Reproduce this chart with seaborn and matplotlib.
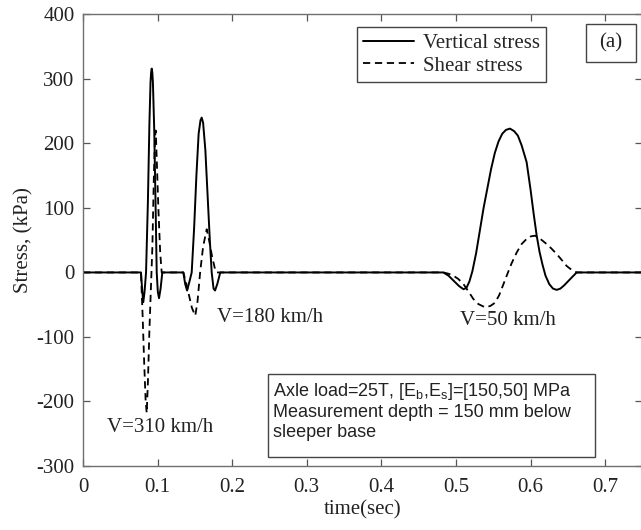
import numpy as np
import pandas as pd
import matplotlib
matplotlib.use("Agg")
import matplotlib.pyplot as plt
from matplotlib.patches import Rectangle
import seaborn as sns

# ---- data (time in s, stress in kPa) ----
# V = 310 km/h
t_vert_310 = [0.0777, 0.0795, 0.0808, 0.0825, 0.0845, 0.0870, 0.0890, 0.0905, 0.0913, 0.0921,
              0.0929, 0.0937, 0.0955, 0.0975, 0.0988, 0.1003, 0.1019, 0.1040, 0.1063]
s_vert_310 = [0, -30, -46, -30, 0, 110, 230, 295, 310, 316, 310, 295, 220, 90, 0, -30, -40, -25, 0]
t_shear_310 = [0.0777, 0.0800, 0.0820, 0.0840, 0.0854, 0.0870, 0.0890, 0.0910, 0.0930,
               0.0950, 0.0965, 0.0975, 0.0990, 0.1010, 0.1035, 0.1055]
s_shear_310 = [0, -70, -140, -200, -218, -170, -90, -25, 40, 150, 210, 220, 170, 100, 30, 0]

# V = 180 km/h
t_vert_180 = [0.1345, 0.1370, 0.1395, 0.1425, 0.1457, 0.1490, 0.1520, 0.1550, 0.1575,
              0.1591, 0.1610, 0.1640, 0.1670, 0.1700, 0.1725, 0.1750, 0.1770, 0.1800, 0.1840]
s_vert_180 = [0, -18, -28, -15, 0, 70, 150, 215, 236, 240, 232, 190, 120, 50, 0, -25, -28, -18, 0]
t_shear_180 = [0.1345, 0.1380, 0.1420, 0.1460, 0.1505, 0.1535, 0.1570, 0.1610, 0.1658,
               0.1690, 0.1730, 0.1770, 0.1790]
s_shear_180 = [0, -15, -35, -55, -67, -45, 0, 40, 67, 50, 25, 5, 0]

# V = 50 km/h
t_vert_50 = [0.483, 0.490, 0.497, 0.504, 0.510, 0.514, 0.518, 0.522, 0.527, 0.532, 0.537,
             0.542, 0.547, 0.552, 0.557, 0.562, 0.567, 0.5724, 0.578, 0.583, 0.588, 0.5947,
             0.600, 0.604, 0.6082, 0.612, 0.616, 0.620, 0.625, 0.630, 0.635, 0.640, 0.645,
             0.650, 0.655, 0.6618]
s_vert_50 = [0, -5, -13, -21, -26, -24, -14, 2, 30, 65, 100, 130, 160, 185, 203, 215, 221,
             223, 219, 212, 197, 171, 128, 92, 57, 32, 12, -5, -18, -25, -27, -25, -20,
             -14, -8, 0]
t_shear_50 = [0.483, 0.490, 0.4964, 0.503, 0.510, 0.517, 0.5232, 0.530, 0.5389, 0.546,
              0.5523, 0.558, 0.563, 0.568, 0.5745, 0.5814, 0.588, 0.5947, 0.6005, 0.6059,
              0.612, 0.6216, 0.628, 0.635, 0.642, 0.6484, 0.655, 0.6618]
s_shear_50 = [0, -2, -5, -10, -18, -30, -41, -49, -54, -52, -47, -35, -20, -5, 14, 31,
              44, 52, 56, 57, 53, 44, 37, 28.5, 19, 10, 4, 0]

t_start, t_end = 0.0, 0.75

speed_labels = ["V=310 km/h", "V=180 km/h", "V=50 km/h"]
label_pos = [(0.0318, -240), (0.179, -70), (0.5054, -75)]

series_names = ["Vertical stress", "Shear stress"]
x_ticks = [0, 0.1, 0.2, 0.3, 0.4, 0.5, 0.6, 0.7]
y_ticks = [-300, -200, -100, 0, 100, 200, 300, 400]

# ---- build tables ----
vert_t = [t_start] + t_vert_310 + t_vert_180 + t_vert_50 + [t_end]
vert_s = [0] + s_vert_310 + s_vert_180 + s_vert_50 + [0]
shear_t = [t_start] + t_shear_310 + t_shear_180 + t_shear_50 + [t_end]
shear_s = [0] + s_shear_310 + s_shear_180 + s_shear_50 + [0]
df_v = pd.DataFrame({"t": vert_t, "s": vert_s})
df_s = pd.DataFrame({"t": shear_t, "s": shear_s})

sns.set_theme(style="ticks")
plt.rcParams["font.family"] = ["Liberation Serif", "DejaVu Serif"]
plt.rcParams["mathtext.fontset"] = "custom"

fig = plt.figure(figsize=(6.41, 5.30), dpi=100)
ax = fig.add_axes([0.1295, 0.1208, 0.8728, 0.8520])

sns.lineplot(data=df_s, x="t", y="s", ax=ax, sort=False, estimator=None,
             color="black", linewidth=1.3, linestyle=(0, (4.0, 2.6)), label=series_names[1])
sns.lineplot(data=df_v, x="t", y="s", ax=ax, sort=False, estimator=None,
             color="black", linewidth=1.4, label=series_names[0])

ax.set_xlim(0, 0.75)
ax.set_ylim(-300, 400)
ax.set_xticks(x_ticks)
ax.set_xticklabels([("%g" % v) for v in x_ticks])
ax.set_yticks(y_ticks)
ax.set_yticklabels([("%d" % v) for v in y_ticks])
ax.tick_params(direction="in", length=5, width=0.9, color="#555555",
               labelsize=15, top=True, right=True, labelcolor="#222222")
ax.tick_params(axis="x", pad=9)
ax.tick_params(axis="y", pad=6)
for sp in ax.spines.values():
    sp.set_color("#707070")
    sp.set_linewidth(1.0)

ax.set_xlabel("time(sec)", fontsize=15, color="#222222", labelpad=2)
ax.set_ylabel("Stress, (kPa)", fontsize=15, color="#222222", labelpad=2)

# legend (solid first)
handles, labels = ax.get_legend_handles_labels()
order = [labels.index(series_names[0]), labels.index(series_names[1])]
leg = ax.legend([handles[i] for i in order], [labels[i] for i in order],
                loc="upper right", bbox_to_anchor=(0.8275, 0.972), fontsize=15,
                frameon=True, fancybox=False, edgecolor="#444444", framealpha=1,
                handlelength=2.45, handletextpad=0.4, labelspacing=0.15,
                borderpad=0.3, borderaxespad=0)
leg.get_frame().set_linewidth(1.0)

# speed labels
for txt, (x, y) in zip(speed_labels, label_pos):
    ax.text(x, y, txt, ha="left", va="center", fontsize=15, color="#222222")

# (a) box
ax.add_patch(Rectangle((0.899, 0.8946), 0.0894, 0.0841, transform=ax.transAxes,
                       fill=False, edgecolor="#444444", linewidth=1.0, clip_on=False))
ax.text(0.944, 0.937, "(a)", transform=ax.transAxes, ha="center", va="center",
        fontsize=15, color="#222222")

# annotation box
ax.add_patch(Rectangle((0.3312, 0.0193), 0.5839, 0.1844, transform=ax.transAxes,
                       facecolor="white", edgecolor="#444444", linewidth=1.0, zorder=5))
ann_lines = ["Axle load=25T, [E$_\\mathregular{b}$,E$_\\mathregular{s}$]=[150,50] MPa",
             "Measurement depth = 150 mm below",
             "sleeper base"]
ann_y = [0.1550, 0.1092, 0.0649]
for line, y in zip(ann_lines, ann_y):
    ax.text(0.3394, y, line, transform=ax.transAxes, ha="left", va="baseline",
            fontsize=13, family="Liberation Sans", color="#222222", zorder=6)

fig.savefig("out.png", dpi=100)
